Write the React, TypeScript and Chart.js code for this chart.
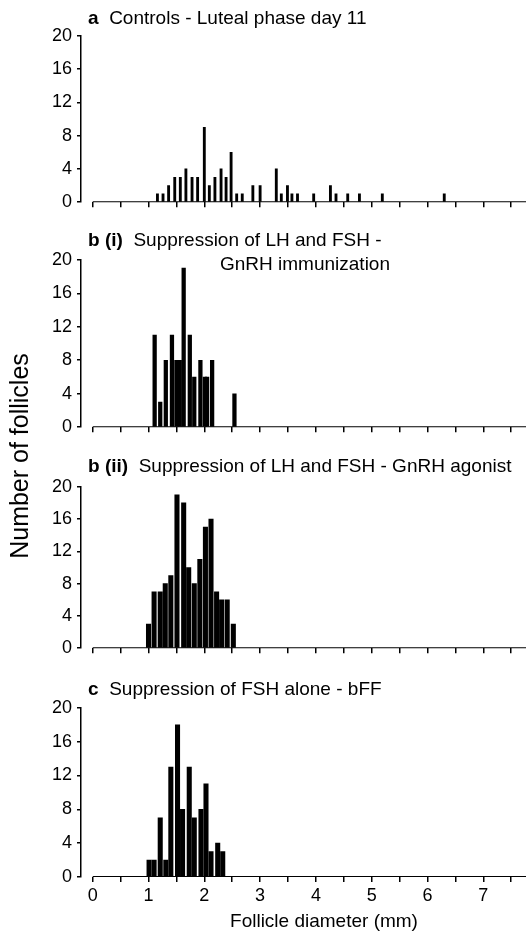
import React, { useEffect, useRef } from "react";
import { Chart, registerables } from "chart.js";

Chart.register(...registerables);

// ---------- data ----------
const X_MIN = -0.21;
const X_MAX = 7.765;
const X_TICKS = [0, 0.5, 1, 1.5, 2, 2.5, 3, 3.5, 4, 4.5, 5, 5.5, 6, 6.5, 7, 7.5];
const Y_TICKS = [0, 4, 8, 12, 16, 20];

// a  Controls - Luteal phase day 11
const A_X = [1.16, 1.26, 1.36, 1.47, 1.57, 1.67, 1.78, 1.88, 2.0, 2.09, 2.19, 2.3, 2.39, 2.48, 2.58, 2.68, 2.87, 3.0, 3.29, 3.38, 3.49, 3.57, 3.67, 3.96, 4.26, 4.36, 4.57, 4.78, 5.19, 6.3];
const A_Y = [1, 1, 2, 3, 3, 4, 3, 3, 9, 2, 3, 4, 3, 6, 1, 1, 2, 2, 4, 1, 2, 1, 1, 1, 2, 1, 1, 1, 1, 1];

// b (i) GnRH immunization
const BI_X = [1.11, 1.21, 1.31, 1.42, 1.5, 1.56, 1.63, 1.74, 1.82, 1.93, 2.01, 2.05, 2.14, 2.54];
const BI_Y = [11, 3, 8, 11, 8, 8, 19, 11, 6, 8, 6, 6, 8, 4];

// b (ii) GnRH agonist
const BII_X = [1.0, 1.1, 1.21, 1.3, 1.4, 1.51, 1.63, 1.72, 1.82, 1.92, 2.02, 2.12, 2.22, 2.31, 2.41, 2.52];
const BII_Y = [3, 7, 7, 8, 9, 19, 18, 10, 8, 11, 15, 16, 7, 6, 6, 3];

// c bFF
const C_X = [1.01, 1.1, 1.21, 1.31, 1.4, 1.52, 1.61, 1.73, 1.82, 1.94, 2.03, 2.12, 2.24, 2.33];
const C_Y = [2, 2, 7, 2, 13, 18, 8, 13, 7, 8, 11, 3, 4, 3];

const Y_TITLE = "Number of follicles";
const X_TITLE = "Follicle diameter (mm)";

const FONT = "'Liberation Sans', Arial, Helvetica, sans-serif";
const W = 526;

type PanelProps = {
  xs: number[];
  ys: number[];
  barW: number;
  top: number; // pixel of y=20
  bottom: number; // pixel of y=0
  last: boolean;
};

function Panel({ xs, ys, barW, top, bottom, last }: PanelProps) {
  const ref = useRef<HTMLCanvasElement | null>(null);
  const padTop = 12;
  const canvasTop = top - padTop;
  const canvasH = last ? 932 - canvasTop : bottom - top + padTop + 10;
  const xAxisH = last ? 932 - bottom : 6;

  useEffect(() => {
    if (!ref.current) return;
    const chart = new Chart(ref.current, {
      type: "bar",
      data: {
        datasets: [
          {
            type: "line",
            data: [
              { x: 0, y: 0 },
              { x: X_MAX, y: 0 },
            ],
            borderColor: "#000",
            borderWidth: 2,
            pointRadius: 0,
            order: 0,
          } as any,
          {
            type: "bar",
            data: xs.map((x, i) => ({ x, y: ys[i] })),
            backgroundColor: "#000",
            borderWidth: 0,
            barThickness: barW,
            order: 1,
          } as any,
        ],
      },
      options: {
        animation: false,
        responsive: false,
        devicePixelRatio: 1,
        plugins: { legend: { display: false }, tooltip: { enabled: false }, title: { display: false } },
        layout: { padding: { top: padTop, bottom: last ? 0 : 4, left: 0, right: 0 } },
        scales: {
          x: {
            type: "linear",
            min: X_MIN,
            max: X_MAX,
            offset: false,
            afterBuildTicks: (s: any) => {
              s.ticks = X_TICKS.map((v) => ({ value: v }));
            },
            afterFit: (s: any) => {
              s.height = xAxisH;
            },
            border: { display: false },
            grid: {
              display: true,
              drawOnChartArea: false,
              drawTicks: true,
              tickLength: 5,
              color: "#000",
              lineWidth: 1.5,
              offset: false,
            },
            ticks: {
              display: last,
              autoSkip: false,
              maxRotation: 0,
              color: "#000",
              padding: 3,
              font: { family: FONT, size: 18 },
              callback: (v: any) => (Number.isInteger(v) ? String(v) : ""),
            },
          },
          y: {
            type: "linear",
            min: 0,
            max: 20,
            afterBuildTicks: (s: any) => {
              s.ticks = Y_TICKS.map((v) => ({ value: v }));
            },
            afterFit: (s: any) => {
              s.width = 81;
            },
            border: { display: true, color: "#000", width: 1.5 },
            grid: {
              display: true,
              drawOnChartArea: false,
              drawTicks: true,
              tickLength: 4,
              color: "#000",
              lineWidth: 1.5,
            },
            ticks: {
              color: "#000",
              padding: 5,
              font: { family: FONT, size: 18 },
            },
          },
        },
      } as any,
    });
    return () => chart.destroy();
  }, []);

  return (
    <canvas
      ref={ref}
      width={W}
      height={canvasH}
      style={{ position: "absolute", left: 0, top: canvasTop, width: W, height: canvasH }}
    />
  );
}

const titleStyle = (baseline: number): React.CSSProperties => ({
  position: "absolute",
  top: baseline - 16.1,
  fontFamily: FONT,
  fontSize: 19,
  lineHeight: "19px",
  whiteSpace: "pre",
  color: "#000",
  zIndex: 2,
});

export default function App() {
  return (
    <div
      style={{
        position: "absolute",
        left: 0,
        top: 0,
        width: W,
        height: 932,
        background: "#fff",
        overflow: "hidden",
        fontFamily: FONT,
      }}
    >
      <Panel xs={A_X} ys={A_Y} barW={2.2} top={32} bottom={208} last={false} />
      <Panel xs={BI_X} ys={BI_Y} barW={3.6} top={256} bottom={433} last={false} />
      <Panel xs={BII_X} ys={BII_Y} barW={4.4} top={483} bottom={654} last={false} />
      <Panel xs={C_X} ys={C_Y} barW={4.4} top={704} bottom={877} last={true} />

      <div style={{ ...titleStyle(24), left: 88 }}>
        <b>a</b>{"  Controls - Luteal phase day 11"}
      </div>
      <div style={{ ...titleStyle(245.7), left: 88 }}>
        <b>b (i)</b>{"  Suppression of LH and FSH -"}
      </div>
      <div style={{ ...titleStyle(270), right: W - 390, textAlign: "right" }}>GnRH immunization</div>
      <div style={{ ...titleStyle(471.7), left: 88 }}>
        <b>b (ii)</b>{"  Suppression of LH and FSH - GnRH agonist"}
      </div>
      <div style={{ ...titleStyle(695), left: 88 }}>
        <b>c</b>{"  Suppression of FSH alone - bFF"}
      </div>

      <div
        style={{
          position: "absolute",
          left: 324 - 150,
          width: 300,
          top: 927 - 16.1,
          fontSize: 19,
          lineHeight: "19px",
          textAlign: "center",
          whiteSpace: "pre",
          zIndex: 2,
        }}
      >
        {X_TITLE}
      </div>

      <div
        style={{
          position: "absolute",
          left: 19.3 - 150,
          top: 456 - 15,
          width: 300,
          height: 30,
          lineHeight: "30px",
          fontSize: 25,
          textAlign: "center",
          whiteSpace: "pre",
          transform: "rotate(-90deg)",
          zIndex: 2,
        }}
      >
        {Y_TITLE}
      </div>
    </div>
  );
}
